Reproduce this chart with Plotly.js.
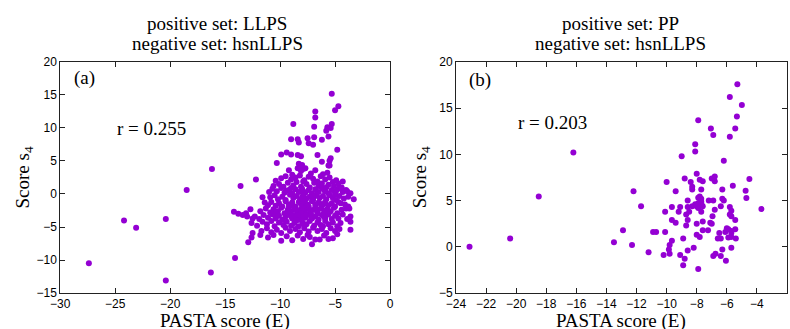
<!DOCTYPE html>
<html><head><meta charset="utf-8">
<script src="https://cdn.plot.ly/plotly-3.0.1.min.js"></script>
<style>html,body{margin:0;padding:0;background:#fff}#c{width:790px;height:329px}</style>
</head><body><div id="c"></div>
<script>
// Panel (a): positive set LLPS, negative set hsnLLPS
const aX = [-27.4,-24.2,-23.1,-20.4,-20.4,-18.5,-16.2,-16.3,-14.1,-13.6,-12.2,
-5.3,-4.7,-5.0,-6.8,-6.8,-8.8,-6.9,-5.3,-5.7,-5.8,-5.4,-5.6,-9.0,-8.4,-8.3,-7.5,-7.4,-6.9,-7.0,-6.2,-5.4,-5.5,-4.8,-9.9,-9.4,-9.0,-8.4,-8.1,-10.3,-6.6,-6.2,-5.6,-8.3,
-8.2,-8.0,-8.4,-7.9,-8.1,-7.7,-6.8,-5.7,-5.5,-9.2,
-9.9,-9.5,-9.0,-8.6,-8.2,-7.8,-7.4,-7.0,-6.6,-6.3,-5.9,-5.5,-5.2,-4.9,-4.3,-10.4,-8.9,-6.1,-7.2,
-10.6,-10.1,-9.7,-9.3,-8.8,-8.5,-8.1,-7.6,-7.3,-6.9,-6.5,-6.2,-5.8,-5.6,-5.1,-4.7,-4.4,-4.0,-9.0,-7.9,
-11.0,-10.7,-10.3,-9.9,-9.6,-9.2,-8.9,-8.6,-8.3,-8.0,-7.7,-7.4,-7.1,-6.8,-6.5,-6.2,-5.9,-5.6,-5.3,-5.0,-4.7,-4.3,-3.9,-3.6,-9.4,-7.9,-6.0,-4.9,
-11.6,-10.9,-10.5,-10.2,-9.8,-9.5,-9.1,-8.8,-8.5,-8.2,-7.9,-7.6,-7.3,-7.0,-6.7,-6.4,-6.1,-5.8,-5.5,-5.2,-4.9,-4.6,-4.2,-3.3,-3.8,-8.0,-6.9,-5.0,
-11.4,-11.1,-10.8,-10.4,-10.1,-9.8,-9.5,-9.2,-8.9,-8.6,-8.3,-8.0,-7.7,-7.4,-7.1,-6.8,-6.5,-6.2,-5.9,-5.6,-5.3,-5.0,-4.7,-4.5,-4.1,-3.8,-8.1,-7.5,-6.3,-9.0,-7.9,-6.0,
-11.8,-11.3,-10.9,-10.6,-10.2,-9.9,-9.6,-9.3,-9.0,-8.7,-8.4,-8.1,-7.8,-7.5,-7.2,-6.9,-6.6,-6.3,-6.0,-5.7,-5.4,-5.1,-4.8,-4.4,-4.0,-3.7,-8.0,-8.3,-7.7,-7.9,-8.5,-7.3,-6.8,-5.9,-9.2,-10.4,
-12.3,-11.9,-11.5,-11.1,-10.7,-10.4,-10.1,-9.8,-9.5,-9.2,-8.9,-8.6,-8.3,-8.0,-7.7,-7.4,-7.1,-6.8,-6.5,-6.2,-5.9,-5.6,-5.3,-5.0,-4.7,-4.3,-3.6,-3.9,-8.1,-7.9,-8.4,-7.6,-6.6,-6.0,-9.0,-7.2,
-12.6,-12.1,-11.6,-11.2,-10.8,-10.5,-10.1,-9.7,-9.4,-9.0,-8.7,-8.3,-8.0,-7.6,-7.3,-6.9,-6.6,-6.3,-5.9,-5.6,-5.2,-4.8,-4.5,-3.6,-7.9,-8.5,-6.1,
-12.5,-11.7,-11.2,-10.8,-10.3,-9.9,-9.5,-9.1,-8.6,-8.2,-7.8,-7.4,-7.0,-6.6,-6.2,-5.8,-5.4,-5.0,-4.6,-3.6,
-12.9,-12.6,-11.8,-11.1,-10.6,-9.9,-9.4,-8.9,-8.4,-7.9,-7.5,-7.1,-6.8,-6.4,-6.0,-5.6,-5.2,-4.8,-7.3,
-14.2,-13.8,-13.4,-13.0,-12.7,-12.5,-13.1];
const aY = [-10.5,-4.0,-5.1,-13.1,-3.8,0.6,3.8,-11.9,-9.7,1.2,2.2,
15.2,13.3,12.7,12.5,11.6,10.6,10.2,10.6,10.1,9.6,10.0,8.7,8.3,8.3,7.8,8.45,7.7,8.6,7.45,8.2,5.4,5.05,6.7,6.0,6.3,6.0,5.9,5.7,4.7,5.9,4.9,4.3,4.6,
4.2,4.4,3.9,3.8,3.5,3.9,3.6,3.2,4.3,3.6,
2.4,2.7,2.2,2.5,2.8,2.1,2.6,2.3,1.9,2.7,2.2,2.5,1.8,2.1,1.9,2.0,2.9,3.0,3.1,
1.2,1.5,1.1,1.7,1.3,1.8,1.1,1.5,1.0,1.7,1.2,1.6,1.0,1.4,1.2,1.6,1.0,0.6,0.9,1.9,
0.3,0.8,0.4,0.9,0.2,0.6,0.1,0.7,0.3,0.8,0.2,0.6,0.1,0.7,0.3,0.9,0.4,0.1,0.6,0.2,0.8,0.3,0.4,0.1,0.5,0.4,0.6,0.5,
-0.5,-0.5,-0.2,-0.8,-0.4,-0.9,-0.1,-0.6,-0.3,-0.9,-0.2,-0.7,-0.4,-0.9,-0.1,-0.6,-0.3,-0.8,-0.2,-0.6,-0.9,-0.3,-0.7,-0.8,-0.4,-0.5,-0.4,-0.1,
-1.3,-1.7,-1.2,-1.8,-1.4,-1.9,-1.1,-1.6,-1.3,-1.9,-1.2,-1.7,-1.4,-1.9,-1.1,-1.6,-1.3,-1.8,-1.2,-1.7,-1.4,-1.9,-1.2,-1.4,-1.6,-1.9,-1.5,-1.6,-1.5,-1.8,-1.1,-1.5,
-2.6,-2.2,-2.8,-2.3,-2.6,-2.1,-2.9,-2.4,-2.7,-2.2,-2.8,-2.3,-2.6,-2.1,-2.9,-2.4,-2.7,-2.2,-2.8,-2.3,-2.6,-2.1,-2.9,-2.4,-2.2,-2.2,-2.5,-2.5,-2.9,-2.2,-2.5,-2.4,-2.0,-2.5,-2.0,-2.9,
-3.4,-3.8,-3.2,-3.6,-3.1,-3.7,-3.3,-3.9,-3.4,-3.1,-3.7,-3.2,-3.8,-3.3,-3.6,-3.1,-3.7,-3.4,-3.9,-3.2,-3.6,-3.1,-3.8,-3.3,-3.7,-3.1,-3.4,-3.8,-3.0,-3.4,-3.3,-3.2,-3.0,-3.5,-3.4,-3.3,
-4.4,-4.8,-4.2,-4.6,-4.1,-4.9,-4.3,-4.7,-4.2,-4.8,-4.4,-4.9,-4.2,-4.6,-4.1,-4.8,-4.3,-4.7,-4.1,-4.6,-4.3,-4.9,-4.4,-4.2,-4.5,-4.0,-4.9,
-5.9,-5.6,-5.2,-5.8,-5.4,-5.9,-5.1,-5.6,-5.3,-5.8,-5.2,-5.7,-5.1,-5.6,-5.3,-5.9,-5.2,-5.6,-5.3,-5.4,
-7.3,-6.6,-6.2,-6.6,-6.2,-7.1,-6.4,-7.0,-6.3,-6.8,-6.2,-7.6,-6.9,-6.9,-6.3,-6.8,-6.7,-6.1,-6.5,
-2.7,-3.0,-3.2,-3.4,-2.3,-3.7,-2.9];

// Panel (b): positive set PP, negative set hsnLLPS
const bX = [-23.1,-20.4,-18.5,-16.2,-13.5,-12.9,-12.3,-12.2,-11.7,-11.2,-10.9,-10.7,-10.1,-10.0,-10.2,-10.1,-9.85,-9.8,-9.8,-9.65,-9.65,-9.65,-9.4,-9.4,-9.2,-9.1,-9.1,-9.0,-8.9,-8.9,-8.8,-8.8,-8.7,-8.6,-8.7,-8.6,-8.6,-8.6,-8.5,-8.4,-8.3,-8.3,-8.2,-8.1,-8.1,-8.0,-8.0,-8.0,-7.9,-7.9,-8.0,-7.9,-7.9,-7.9,-7.8,-7.8,-7.8,-7.75,-7.7,-7.7,-7.7,-7.7,-7.6,-7.6,-7.6,-7.6,-7.2,-7.25,-7.1,-7.06,-7.0,-7.0,-6.95,-6.9,-6.9,-6.9,-6.8,-6.8,-6.8,-6.75,-6.2,-6.3,-6.3,-6.2,-6.4,-6.5,-6.4,-6.4,-6.3,-6.1,-6.06,-5.9,-5.8,-5.8,-5.8,-5.8,-5.7,-5.7,-5.7,-5.7,-5.7,-5.6,-5.7,-5.44,-5.33,-5.3,-5.44,-5.44,-5.4,-5.0,-4.75,-4.7,-4.5,-3.7,-8.1,-7.7,-8.3,-6.6,-5.9,-6.0];
const bY = [0.0,0.9,5.45,10.2,0.5,1.8,0.2,6.0,4.4,-0.6,1.6,1.6,3.8,7.0,-0.9,1.6,-0.3,-0.75,0.2,4.3,0.65,2.9,2.6,6.0,3.8,4.3,-0.9,9.8,0.9,-2.0,7.4,-1.3,2.3,2.9,3.5,4.3,5.0,-0.4,3.8,7.0,6.2,6.5,-0.1,10.3,11.1,4.4,2.5,1.3,13.7,-2.4,7.9,4.7,4.2,5.3,1.05,7.25,5.45,5.0,6.2,3.8,4.7,5.2,7.1,2.75,1.8,4.4,5.0,1.8,2.6,12.8,2.5,7.4,3.3,-1.0,5.0,12.1,7.6,7.1,4.0,-0.75,9.3,6.2,5.2,5.0,4.4,1.5,0.9,-1.0,-0.3,1.6,-1.5,1.9,16.2,11.9,4.3,3.5,1.05,-0.1,3.3,3.9,1.7,6.6,1.5,12.8,14.1,17.6,2.9,1.9,0.9,15.35,6.06,5.27,7.35,4.1,4.6,4.9,4.4,0.9,1.0,2.0];

const col = '#9400D3';
const serif = '"Liberation Serif", "Times New Roman", Times, serif';
const sans = '"Liberation Sans", Arial, Helvetica, sans-serif';

const axBase = {
  showgrid:false, zeroline:false, showline:true, linecolor:'#222', linewidth:1, mirror:'ticks',
  ticks:'inside', ticklen:5, tickcolor:'#222', tickwidth:1,
  tickfont:{family:sans, size:12, color:'#000'}
};

const traces = [
  {x:aX, y:aY, type:'scatter', mode:'markers', xaxis:'x', yaxis:'y',
   marker:{color:col, size:6}, hoverinfo:'none'},
  {x:bX, y:bY, type:'scatter', mode:'markers', xaxis:'x2', yaxis:'y2',
   marker:{color:col, size:6}, hoverinfo:'none'}
];

const tf = {family:serif, size:19, color:'#000'};
function ann(text, xref, yref, x, y, xa, ya, extra) {
  return Object.assign({text:text, xref:xref, yref:yref, x:x, y:y, xanchor:xa, yanchor:ya,
    showarrow:false, font:tf}, extra || {});
}

const yd = [0.1094, 0.8116];
const layout = {
  width:790, height:329, margin:{l:0,r:0,t:0,b:0},
  paper_bgcolor:'#fff', plot_bgcolor:'#fff', showlegend:false,
  xaxis: Object.assign({}, axBase, {domain:[0.0763,0.4937], range:[-30,0], dtick:5, tick0:0, anchor:'y'}),
  yaxis: Object.assign({}, axBase, {domain:yd, range:[-15,20], dtick:5, tick0:0, anchor:'x'}),
  xaxis2: Object.assign({}, axBase, {domain:[0.5772,0.9962], range:[-24,-2], dtick:2, tick0:0, anchor:'y2'}),
  yaxis2: Object.assign({}, axBase, {domain:yd, range:[-5,20], dtick:5, tick0:0, anchor:'x2'}),
  annotations:[
    ann('positive set: LLPS', 'paper', 'paper', 0.2747, 0.930, 'center', 'middle'),
    ann('negative set: hsnLLPS', 'paper', 'paper', 0.2747, 0.869, 'center', 'middle'),
    ann('positive set: PP', 'paper', 'paper', 0.786, 0.930, 'center', 'middle'),
    ann('negative set: hsnLLPS', 'paper', 'paper', 0.786, 0.869, 'center', 'middle'),
    ann('(a)', 'x', 'y', -28.95, 17.5, 'left', 'middle'),
    ann('r = 0.255', 'x', 'y', -25.0, 9.85, 'left', 'middle'),
    ann('(b)', 'x2', 'y2', -23.27, 18.1, 'left', 'middle'),
    ann('r = 0.203', 'x2', 'y2', -20.0, 13.4, 'left', 'middle'),
    ann('PASTA score (E)', 'x', 'paper', -15, 0.0243, 'center', 'middle'),
    ann('PASTA score (E)', 'x2', 'paper', -13, 0.0243, 'center', 'middle'),
    ann('Score s<sub>4</sub>', 'paper', 'paper', 0.0316, 0.4605, 'center', 'middle', {textangle:-90}),
    ann('Score s<sub>4</sub>', 'paper', 'paper', 0.534, 0.4605, 'center', 'middle', {textangle:-90})
  ]
};
Plotly.newPlot('c', traces, layout, {staticPlot:true, displayModeBar:false});
</script></body></html>
